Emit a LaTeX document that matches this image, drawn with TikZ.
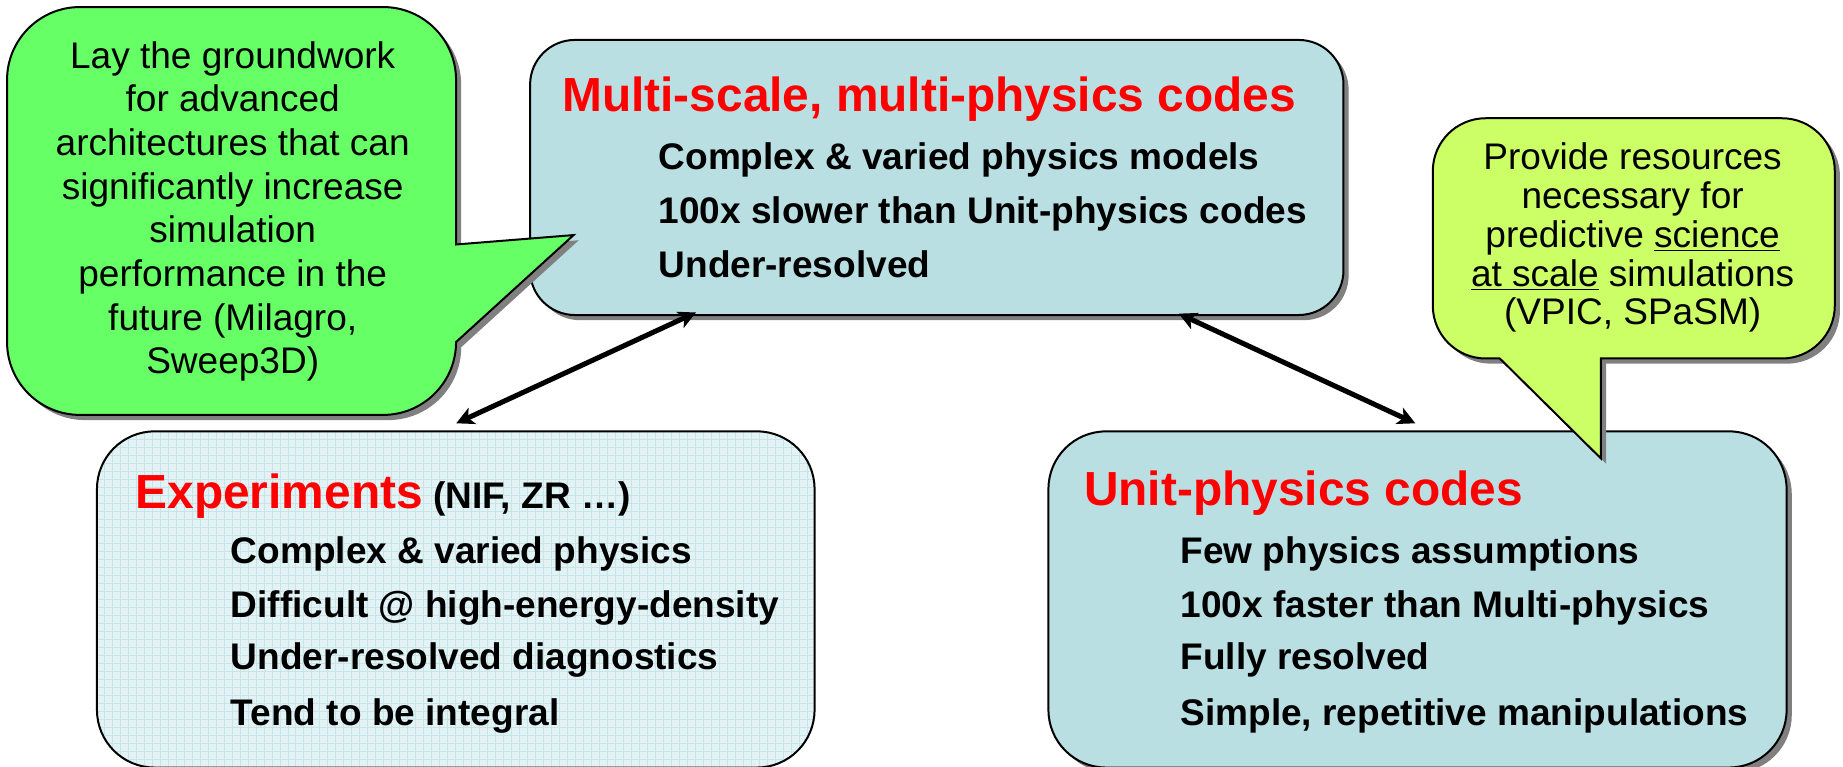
\documentclass[tikz,border=0pt]{standalone}
\usepackage{fontspec}
\setmainfont{Liberation Sans}
\usetikzlibrary{arrows.meta,shadows,calc}

\definecolor{calloutgreen}{HTML}{66FF66}
\definecolor{calloutlime}{HTML}{CCFF66}
\definecolor{paneblue}{HTML}{B9DFE3}
\definecolor{panelight}{HTML}{E3F3F5}
\definecolor{panegrid}{HTML}{C6E5E9}
\definecolor{shadowgray}{HTML}{808080}

\newcommand\headfnt{\fontsize{20.35pt}{24pt}\selectfont\bfseries}
\newcommand\bodyfnt{\fontsize{15.75pt}{19pt}\selectfont\bfseries}
\newcommand\callfnt{\fontsize{15.75pt}{19pt}\selectfont}

\begin{document}
\begin{tikzpicture}[x=0.5pt,y=0.5pt,
  shade drop/.style={drop shadow={shadow xshift=2.2pt,shadow yshift=-2.2pt,fill=shadowgray,opacity=1}},
  outline/.style={draw=black,line width=0.85pt},
  pane/.style={outline,shade drop,rectangle,fill=paneblue,inner sep=0pt},
  gridpane/.style={outline,rectangle,fill=panelight,inner sep=0pt,
    path picture={\draw[panegrid,line width=0.35pt]
      (path picture bounding box.south west) grid[step=3.4pt] (path picture bounding box.north east);}},
  headline/.style={anchor=base west,inner sep=0pt,text=red,font=\headfnt},
  itemline/.style={anchor=base west,inner sep=0pt,font=\bodyfnt},
  calltext/.style={anchor=base,inner sep=0pt,font=\callfnt},
  link/.style={{Stealth[length=7.5pt,width=7.5pt,inset=2pt]}-{Stealth[length=7.5pt,width=7.5pt,inset=2pt]},line width=2.15pt}
]
\useasboundingbox (0,-652) rectangle (1568,0);
\clip (0,-652) rectangle (1568,0);

% the three panels
\node[pane,rounded corners=19pt,minimum width=346pt,minimum height=117pt] (multi) at (797,-151) {};
\node[gridpane,rounded corners=24.5pt,minimum width=305.25pt,minimum height=143pt] (exper) at (387.75,-510) {};
\node[pane,rounded corners=24.5pt,minimum width=314pt,minimum height=143pt] (unit) at (1206,-510) {};

% green speech bubble, tail pointing right over the top panel
\draw[outline,shade drop,fill=calloutgreen]
  (388,-291) arc[start angle=0,end angle=-90,radius=62]
  -- (68,-353) arc[start angle=-90,end angle=-180,radius=62]
  -- (6,-68) arc[start angle=180,end angle=90,radius=62]
  -- (326,-6) arc[start angle=90,end angle=0,radius=62]
  -- (388,-208) -- (488,-200) -- cycle;

% lime speech bubble, tail pointing down into the unit-physics panel
\draw[outline,shade drop,fill=calloutlime]
  (1362,-305) -- (1516,-305) arc[start angle=-90,end angle=0,radius=45]
  -- (1561,-145.6) arc[start angle=0,end angle=90,radius=45]
  -- (1264,-100.6) arc[start angle=90,end angle=180,radius=45]
  -- (1219,-260) arc[start angle=180,end angle=270,radius=45]
  -- (1276,-305) -- (1362,-390) -- cycle;

% callout texts
\node[calltext] (g1) at (198,-58) {Lay the groundwork};
\node[calltext] (g2) at (198,-95.1) {for advanced};
\node[calltext] (g3) at (198,-132.3) {architectures that can};
\node[calltext] (g4) at (198,-169.4) {significantly increase};
\node[calltext] (g5) at (198,-206.6) {simulation};
\node[calltext] (g6) at (198,-243.7) {performance in the};
\node[calltext] (g7) at (198,-280.9) {future (Milagro,};
\node[calltext] (g8) at (198,-318) {Sweep3D)};

\node[calltext] (y1) at (1389,-144) {Provide resources};
\node[calltext] (y2) at (1389,-177.1) {necessary for};
\node[calltext] (y3) at (1389,-210.3) {predictive \underline{science}};
\node[calltext] (y4) at (1389,-243.4) {\underline{at scale} simulations};
\node[calltext] (y5) at (1389,-276.5) {(VPIC, SPaSM)};

% multi-physics panel text
\node[headline] (mt) at (478,-95) {Multi-scale, multi-physics codes};
\node[itemline] (m1) at (560,-144) {Complex \& varied physics models};
\node[itemline] (m2) at (560,-190) {100x slower than Unit-physics codes};
\node[itemline] (m3) at (560,-236) {Under-resolved};

% experiments panel text
\node[itemline] (et) at (115,-433) {\textcolor{red}{\headfnt Experiments} (NIF, ZR …)};
\node[itemline] (e1) at (196,-479) {Complex \& varied physics};
\node[itemline] (e2) at (196,-525) {Difficult @ high-energy-density};
\node[itemline] (e3) at (196,-570) {Under-resolved diagnostics};
\node[itemline] (e4) at (196,-617) {Tend to be integral};

% unit-physics panel text
\node[headline] (ut) at (922,-430) {Unit-physics codes};
\node[itemline] (u1) at (1004,-479) {Few physics assumptions};
\node[itemline] (u2) at (1004,-525) {100x faster than Multi-physics};
\node[itemline] (u3) at (1004,-570) {Fully resolved};
\node[itemline] (u4) at (1004,-617) {Simple, repetitive manipulations};

% two-way links between the panels
\coordinate (mL) at ([shift={(142,3)}]multi.south west);
\coordinate (mR) at ([shift={(-141,2)}]multi.south east);
\coordinate (eT) at ([shift={(306.5,6)}]exper.north west);
\coordinate (uT) at ([shift={(313,6)}]unit.north west);
\draw[link] (mL) -- (eT);
\draw[link] (mR) -- (uT);
\end{tikzpicture}
\end{document}
